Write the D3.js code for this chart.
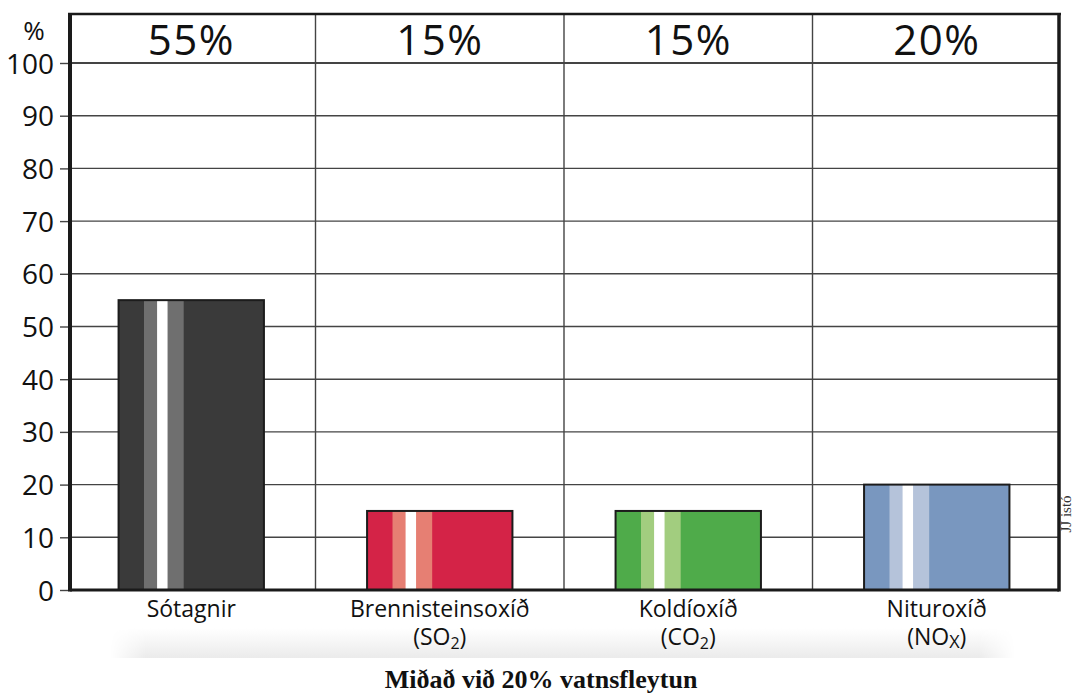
<!DOCTYPE html>
<html>
<head>
<meta charset="utf-8">
<script src="https://cdn.jsdelivr.net/npm/d3@7"></script>
<style>
  html, body { margin: 0; padding: 0; background: #fff; overflow: hidden; }
  svg { display: block; }
</style>
</head>
<body>
<svg id="chart" width="1075" height="693"></svg>
<script>
// Emission reduction per pollutant
const categories   = ["Sótagnir", "Brennisteinsoxíð", "Koldíoxíð", "Nituroxíð"];
const formulaBase  = [null, "SO", "CO", "NO"];
const formulaSub   = [null, "2", "2", "X"];
const values       = [55, 15, 15, 20];
const shareLabels  = ["55%", "15%", "15%", "20%"];
const yTickValues  = [0, 10, 20, 30, 40, 50, 60, 70, 80, 90, 100];
const barFills     = ["#3a3a3a", "#d42347", "#4fab4a", "#7997bf"];
const stripeFills  = ["#6f6f6f", "#e67f73", "#a2cd7f", "#b5c3da"];
const yUnit        = "%";
const caption      = "Miðað við 20% vatnsfleytun";
const credit       = "JJ istó";

const svg = d3.select("#chart");
const plot = { left: 70, right: 1059, top: 14, bottom: 590 };
const SANS = "'Open Sans', 'Noto Sans', sans-serif";
const SERIF = "'Liberation Serif', 'Times New Roman', serif";

const y = d3.scaleLinear().domain([0, 100]).range([plot.bottom, 63]);
const x = d3.scaleBand().domain(categories).range([67, 1061])
  .paddingInner(0.415).paddingOuter(0.2075);
const col = d3.scaleBand().domain(categories).range([67, 1061]).padding(0);

// soft grey shadow under the category labels
const defs = svg.append("defs");
const vg = defs.append("linearGradient").attr("id", "shadeV")
  .attr("x1", 0).attr("y1", 0).attr("x2", 0).attr("y2", 1);
vg.append("stop").attr("offset", 0).attr("stop-color", "#ffffff");
vg.append("stop").attr("offset", 1).attr("stop-color", "#ebebeb");
const hg = defs.append("linearGradient").attr("id", "shadeH")
  .attr("x1", 0).attr("y1", 0).attr("x2", 1).attr("y2", 0);
hg.append("stop").attr("offset", 0).attr("stop-color", "#000");
hg.append("stop").attr("offset", 0.04).attr("stop-color", "#fff");
hg.append("stop").attr("offset", 0.96).attr("stop-color", "#fff");
hg.append("stop").attr("offset", 1).attr("stop-color", "#000");
defs.append("mask").attr("id", "shadeMask")
  .append("rect").attr("x", 110).attr("y", 628).attr("width", 905).attr("height", 32)
  .attr("fill", "url(#shadeH)");
svg.append("rect").attr("x", 110).attr("y", 628).attr("width", 905).attr("height", 30)
  .attr("fill", "url(#shadeV)").attr("mask", "url(#shadeMask)");

// horizontal gridlines
svg.append("g").selectAll("line")
  .data(yTickValues.filter(d => d > 0))
  .join("line")
  .attr("x1", plot.left).attr("x2", plot.right)
  .attr("y1", d => y(d)).attr("y2", d => y(d))
  .attr("stroke", "#444").attr("stroke-width", d => d === 100 ? 2 : 1.4);

// column dividers
svg.append("g").selectAll("line")
  .data(categories.slice(1))
  .join("line")
  .attr("x1", d => col(d)).attr("x2", d => col(d))
  .attr("y1", plot.top).attr("y2", plot.bottom)
  .attr("stroke", "#444").attr("stroke-width", 1.4);

// bars with a light stripe and a white highlight
const bars = svg.append("g").selectAll("g")
  .data(categories)
  .join("g");
const bw = x.bandwidth();
bars.append("rect")
  .attr("x", d => x(d)).attr("y", (d, i) => y(values[i]))
  .attr("width", bw).attr("height", (d, i) => y(0) - y(values[i]))
  .attr("fill", (d, i) => barFills[i]);
bars.append("rect")
  .attr("x", d => x(d) + 0.175 * bw).attr("y", (d, i) => y(values[i]))
  .attr("width", 0.273 * bw).attr("height", (d, i) => y(0) - y(values[i]))
  .attr("fill", (d, i) => stripeFills[i]);
bars.append("rect")
  .attr("x", d => x(d) + 0.265 * bw).attr("y", (d, i) => y(values[i]))
  .attr("width", 0.072 * bw).attr("height", (d, i) => y(0) - y(values[i]))
  .attr("fill", "#ffffff");
bars.append("rect")
  .attr("x", d => x(d)).attr("y", (d, i) => y(values[i]))
  .attr("width", bw).attr("height", (d, i) => y(0) - y(values[i]))
  .attr("fill", "none").attr("stroke", "#1c1c1c").attr("stroke-width", 2);

// y axis ticks and labels
const yAxis = svg.append("g")
  .attr("transform", `translate(${plot.left},0)`)
  .call(d3.axisLeft(y).tickValues(yTickValues).tickSize(10).tickPadding(6));
yAxis.select(".domain").remove();
yAxis.selectAll(".tick line").attr("stroke", "#444").attr("stroke-width", 1.4);
yAxis.selectAll(".tick text")
  .attr("fill", "#111").style("font-family", SANS).style("font-size", "28px")
  .attr("dy", "0.36em");

svg.append("text")
  .attr("x", 34).attr("y", 40).attr("text-anchor", "middle")
  .style("font-family", SANS).style("font-size", "26px").attr("fill", "#111")
  .text(yUnit);

// frame
const frame = svg.append("g").attr("stroke", "#1a1a1a").attr("fill", "none");
frame.append("line").attr("x1", plot.left - 2).attr("x2", plot.right + 2)
  .attr("y1", plot.top).attr("y2", plot.top).attr("stroke-width", 2.6);
frame.append("line").attr("x1", plot.left).attr("x2", plot.left)
  .attr("y1", plot.top - 1).attr("y2", plot.bottom + 1.5).attr("stroke-width", 4);
frame.append("line").attr("x1", plot.right).attr("x2", plot.right)
  .attr("y1", plot.top - 1).attr("y2", plot.bottom + 1.5).attr("stroke-width", 3.5);
frame.append("line").attr("x1", plot.left).attr("x2", plot.right)
  .attr("y1", plot.bottom).attr("y2", plot.bottom).attr("stroke-width", 3);

// share labels in the header row
svg.append("g").selectAll("text")
  .data(categories)
  .join("text")
  .attr("x", d => col(d) + col.bandwidth() / 2)
  .attr("y", 55)
  .attr("text-anchor", "middle")
  .style("font-family", SANS).style("font-size", "42px")
  .style("letter-spacing", "1.5px")
  .attr("fill", "#111")
  .text((d, i) => shareLabels[i]);

// category labels, with the chemical formula on a second line
const cat = svg.append("g").selectAll("text.cat")
  .data(categories.map((c, i) => ({ c, i })))
  .join("text")
  .attr("class", "cat")
  .attr("text-anchor", "middle")
  .style("font-family", SANS).style("font-size", "23px")
  .attr("fill", "#111");
cat.append("tspan")
  .attr("x", d => x(d.c) + bw / 2).attr("y", 617)
  .text(d => d.c);
const form = cat.filter(d => formulaBase[d.i]);
form.append("tspan")
  .attr("x", d => x(d.c) + bw / 2).attr("y", 645)
  .text(d => "(" + formulaBase[d.i]);
form.append("tspan")
  .attr("dy", d => formulaSub[d.i] === "X" ? 3 : 4)
  .style("font-size", d => formulaSub[d.i] === "X" ? "18px" : "16px")
  .text(d => formulaSub[d.i]);
form.append("tspan")
  .attr("dy", d => formulaSub[d.i] === "X" ? -3 : -4)
  .text(")");

// caption
svg.append("text")
  .attr("x", 541).attr("y", 688).attr("text-anchor", "middle")
  .style("font-family", SERIF).style("font-size", "26px").style("font-weight", "bold")
  .attr("fill", "#111")
  .text(caption);

// photo credit along the right edge
svg.append("text")
  .attr("transform", "translate(1071,514) rotate(-90)")
  .attr("text-anchor", "middle")
  .style("font-family", SERIF).style("font-size", "15px")
  .attr("fill", "#333")
  .text(credit);
</script>
</body>
</html>
